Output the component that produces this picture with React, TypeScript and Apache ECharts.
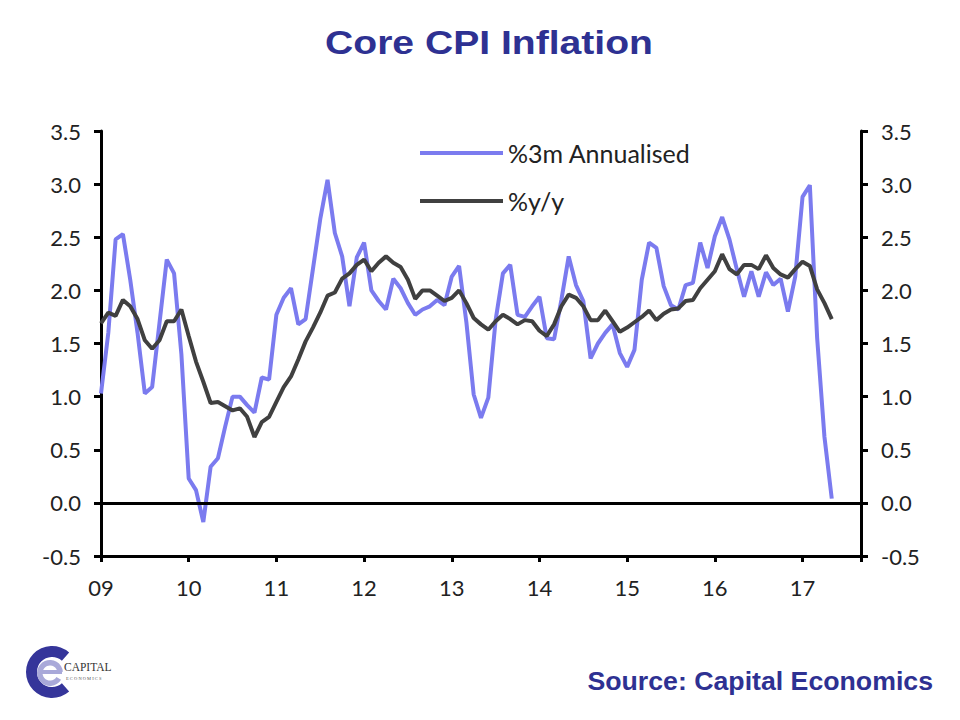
import { useEffect, useRef } from 'react'
import * as echarts from 'echarts'

// x tick labels, one per January (month index 0 = Jan 2009)
const yearLabels = ['09', '10', '11', '12', '13', '14', '15', '16', '17']

// %3m annualised, monthly Jan 2009 .. May 2017
const annualised = [
  1.03, 1.6, 2.48, 2.53, 2.1, 1.6, 1.03, 1.09, 1.69, 2.29, 2.16, 1.4,
  0.23, 0.12, -0.18, 0.34, 0.42, 0.72, 1.0, 1.0, 0.92, 0.85, 1.18, 1.16,
  1.77, 1.93, 2.02, 1.68, 1.73, 2.2, 2.67, 3.04, 2.54, 2.32, 1.85, 2.31,
  2.45, 2.0, 1.9, 1.82, 2.11, 2.02, 1.88, 1.77, 1.82, 1.85, 1.91, 1.86,
  2.13, 2.23, 1.7, 1.02, 0.8, 0.99, 1.72, 2.16, 2.24, 1.77, 1.75, 1.85,
  1.94, 1.55, 1.54, 1.91, 2.32, 2.05, 1.9, 1.36, 1.5, 1.6, 1.68, 1.41,
  1.28, 1.44, 2.1, 2.45, 2.4, 2.04, 1.86, 1.82, 2.05, 2.07, 2.45, 2.21,
  2.51, 2.69, 2.48, 2.2, 1.94, 2.18, 1.94, 2.17, 2.05, 2.11, 1.8, 2.13,
  2.88, 2.99, 1.55, 0.62, 0.04,
]

// %y/y, same months
const yearOnYear = [
  1.69, 1.79, 1.76, 1.91, 1.85, 1.73, 1.53, 1.45, 1.53, 1.71, 1.71, 1.82,
  1.57, 1.33, 1.14, 0.94, 0.95, 0.91, 0.87, 0.89, 0.81, 0.62, 0.76, 0.81,
  0.95, 1.09, 1.19, 1.35, 1.52, 1.65, 1.79, 1.95, 1.98, 2.11, 2.16, 2.24,
  2.29, 2.18, 2.26, 2.32, 2.26, 2.22, 2.1, 1.92, 2.0, 2.0, 1.95, 1.9,
  1.93, 2.0, 1.88, 1.74, 1.68, 1.63, 1.71, 1.77, 1.73, 1.68, 1.72, 1.71,
  1.62, 1.57, 1.68, 1.85, 1.96, 1.93, 1.85, 1.72, 1.72, 1.81, 1.71, 1.61,
  1.65, 1.7, 1.75, 1.81, 1.72, 1.78, 1.82, 1.83, 1.9, 1.91, 2.02, 2.1,
  2.18, 2.34, 2.2, 2.15, 2.24, 2.24, 2.2, 2.33, 2.21, 2.15, 2.12, 2.2,
  2.27, 2.23, 2.01, 1.88, 1.73,
]

const seriesNames = ['%3m Annualised', '%y/y']

const BLUE = '#7b7bef'
const DARK = '#404040'
const NAVY = '#2e3192'
const AXIS_FONT = 'Lato'

export default function App() {
  const chartRef = useRef<HTMLDivElement>(null)

  useEffect(() => {
    if (!chartRef.current) return
    const chart = echarts.init(chartRef.current, null, { renderer: 'svg' })

    const yAxisBase = {
      type: 'value' as const,
      min: -0.5,
      max: 3.5,
      interval: 0.5,
      axisLine: { show: true, onZero: false, lineStyle: { color: '#000', width: 3 } },
      axisTick: { show: true, length: 7, lineStyle: { color: '#000', width: 3 } },
      axisLabel: {
        formatter: (v: number) => v.toFixed(1),
        fontFamily: AXIS_FONT,
        fontSize: 22,
        color: '#222',
        margin: 20,
      },
      splitLine: { show: false },
    }

    const option: echarts.EChartsOption = {
      animation: false,
      backgroundColor: '#fff',
      grid: { left: 101, right: 99, top: 131, bottom: 164 },
      legend: {
        data: seriesNames,
        orient: 'vertical',
        left: 415,
        top: 133,
        icon: 'rect',
        itemWidth: 83,
        itemHeight: 4,
        itemGap: 18,
        textStyle: {
          fontFamily: AXIS_FONT,
          fontSize: 25,
          color: '#222',
          lineHeight: 30,
          padding: [0, 0, 0, 0],
        },
      },
      xAxis: {
        type: 'value',
        min: 0,
        max: 104,
        interval: 12,
        axisLine: { onZero: false, lineStyle: { color: '#000', width: 3 } },
        axisTick: { length: 6, lineStyle: { color: '#000', width: 3 } },
        axisLabel: {
          formatter: (v: number) => (v % 12 === 0 ? yearLabels[v / 12] ?? '' : ''),
          fontFamily: AXIS_FONT,
          fontSize: 22,
          color: '#222',
          margin: 20,
        },
        splitLine: { show: false },
      },
      yAxis: [
        { ...yAxisBase, position: 'left' },
        { ...yAxisBase, position: 'right' },
      ],
      series: [
        {
          name: seriesNames[0],
          type: 'line',
          data: annualised.map((v, i) => [i, v]),
          showSymbol: false,
          symbol: 'none',
          color: BLUE,
          lineStyle: { color: BLUE, width: 4 },
          z: 2,
        },
        {
          name: seriesNames[1],
          type: 'line',
          data: yearOnYear.map((v, i) => [i, v]),
          showSymbol: false,
          symbol: 'none',
          color: DARK,
          lineStyle: { color: DARK, width: 4 },
          z: 3,
          markLine: {
            silent: true,
            symbol: 'none',
            label: { show: false },
            lineStyle: { color: '#000', width: 3, type: 'solid' },
            data: [{ yAxis: 0 }],
          },
        },
      ],
      graphic: [
        {
          type: 'text',
          x: 489,
          y: 42,
          scaleX: 1.15,
          style: {
            text: 'Core CPI Inflation',
            font: 'bold 34px "Liberation Sans", Arial, sans-serif',
            fill: NAVY,
            textAlign: 'center',
            textVerticalAlign: 'middle',
          },
        },
        {
          type: 'text',
          x: 933,
          y: 681,
          style: {
            text: 'Source: Capital Economics',
            font: 'bold 26.7px "Liberation Sans", Arial, sans-serif',
            fill: NAVY,
            textAlign: 'right',
            textVerticalAlign: 'middle',
          },
        },
        // logo
        {
          type: 'sector',
          shape: { cx: 52, cy: 672, r: 26, r0: 15, startAngle: 0.85, endAngle: Math.PI * 2 - 0.85, clockwise: true },
          style: { fill: '#35359a' },
        },
        {
          type: 'sector',
          shape: { cx: 50, cy: 673, r: 13, r0: 7.5, startAngle: 0.55, endAngle: Math.PI * 2 - 0.1, clockwise: true },
          style: { fill: '#a9a9d9' },
        },
        {
          type: 'rect',
          shape: { x: 40, y: 670, width: 22, height: 4 },
          style: { fill: '#a9a9d9' },
        },
        {
          type: 'text',
          x: 64,
          y: 673,
          style: {
            text: 'CAPITAL',
            font: '11.5px "Liberation Serif", serif',
            fill: '#333',
            textAlign: 'left',
            textVerticalAlign: 'bottom',
          },
        },
        {
          type: 'text',
          x: 66,
          y: 678,
          style: {
            text: 'E C O N O M I C S',
            font: '4.5px "Liberation Serif", serif',
            fill: '#555',
            textAlign: 'left',
            textVerticalAlign: 'middle',
          },
        },
      ],
    }

    chart.setOption(option)

    return () => {
      chart.dispose()
    }
  }, [])

  return (
    <div
      ref={chartRef}
      style={{ position: 'absolute', left: 0, top: 0, width: 960, height: 720 }}
    />
  )
}
